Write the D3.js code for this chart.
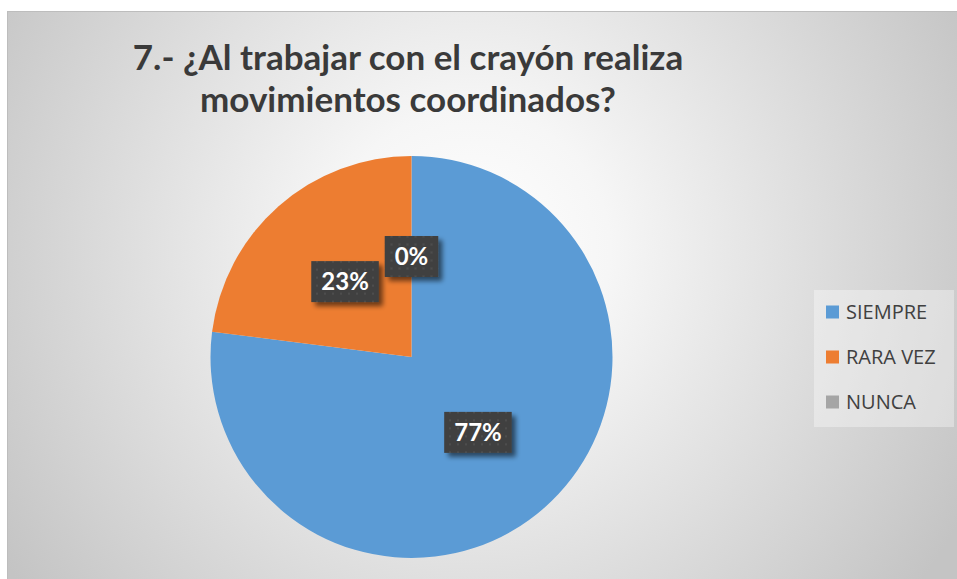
<!DOCTYPE html>
<html><head><meta charset="utf-8">
<script src="https://cdn.jsdelivr.net/npm/d3@7"></script>
<style>body{margin:0;background:#fff;}svg{display:block;}</style>
</head><body>
<script>
const categories = ["SIEMPRE", "RARA VEZ", "NUNCA"];
const values = [77, 23, 0];
const colors = ["#5B9BD5", "#ED7D31", "#A5A5A5"];
const titleLines = ["7.- ¿Al trabajar con el crayón realiza", "movimientos coordinados?"];

const W = 957, H = 579;
const svg = d3.select("body").append("svg").attr("width", W).attr("height", H);
const defs = svg.append("defs");

const rg = defs.append("radialGradient").attr("id", "bg")
  .attr("gradientUnits", "userSpaceOnUse")
  .attr("cx", 470).attr("cy", 250).attr("r", 560);
rg.append("stop").attr("offset", "0").attr("stop-color", "#ffffff");
rg.append("stop").attr("offset", "0.25").attr("stop-color", "#f6f6f6");
rg.append("stop").attr("offset", "1").attr("stop-color", "#c4c4c4");

const pat = defs.append("pattern").attr("id", "dots").attr("patternUnits", "userSpaceOnUse")
  .attr("width", 8).attr("height", 8);
pat.append("rect").attr("width", 8).attr("height", 8).attr("fill", "#404040");
pat.append("rect").attr("x", 3).attr("y", 3).attr("width", 2).attr("height", 2).attr("fill", "#4e4e4e");

const sh = defs.append("filter").attr("id", "shadow").attr("x", "-30%").attr("y", "-30%").attr("width", "170%").attr("height", "170%");
sh.append("feGaussianBlur").attr("in", "SourceAlpha").attr("stdDeviation", 2.5);
sh.append("feOffset").attr("dx", 4).attr("dy", 4).attr("result", "ob");
sh.append("feComponentTransfer").append("feFuncA").attr("type", "linear").attr("slope", 0.55);
const fm = sh.append("feMerge");
fm.append("feMergeNode");
fm.append("feMergeNode").attr("in", "SourceGraphic");

// chart area
svg.append("rect").attr("x", 7.5).attr("y", 11.5).attr("width", W).attr("height", H)
  .attr("fill", "url(#bg)").attr("stroke", "#bdbdbd").attr("stroke-width", 1);

// title
const title = svg.append("text").attr("text-anchor", "middle")
  .attr("font-family", "Lato, 'Open Sans', sans-serif").attr("font-weight", "bold")
  .attr("font-size", 35).attr("fill", "#3a3a3a");
title.selectAll("tspan").data(titleLines).join("tspan")
  .attr("x", 408).attr("y", (d, i) => 70 + i * 42).text(d => d);

// pie
const cx = 411.5, cy = 357, R = 201;
const pie = d3.pie().sort(null).value(d => d)(values);
const arc = d3.arc().innerRadius(0).outerRadius(R);
const g = svg.append("g").attr("transform", `translate(${cx},${cy})`);
g.selectAll("path").data(pie).join("path")
  .attr("d", arc).attr("fill", (d, i) => colors[i]);

// labels
const labelArc = d3.arc().innerRadius(0).outerRadius(R);
const fmt = d => Math.round(d.value / d3.sum(values) * 100) + "%";
const lab = g.selectAll("g.lab").data(pie).join("g").attr("class", "lab")
  .attr("transform", d => `translate(${labelArc.centroid(d)})`);
lab.each(function(d) {
  const s = d3.select(this);
  const t = s.append("text").attr("text-anchor", "middle").attr("dy", "0.36em")
    .attr("font-family", "Lato, 'Open Sans', sans-serif").attr("font-weight", "bold")
    .attr("font-size", 24).attr("fill", "#ffffff").text(fmt(d));
  const w = t.node().getComputedTextLength() + 20;
  s.insert("rect", "text").attr("x", -w / 2).attr("y", -20.5).attr("width", w).attr("height", 41)
    .attr("fill", "url(#dots)").attr("filter", "url(#shadow)");
});

// legend
const lg = svg.append("g");
lg.append("rect").attr("x", 814).attr("y", 290).attr("width", 140).attr("height", 137)
  .attr("fill", "#ffffff").attr("fill-opacity", 0.35);
const li = lg.selectAll("g.li").data(categories).join("g").attr("class", "li")
  .attr("transform", (d, i) => `translate(826,${312 + i * 45})`);
li.append("rect").attr("x", 0).attr("y", -6.5).attr("width", 13).attr("height", 13)
  .attr("fill", (d, i) => colors[i]);
li.append("text").attr("x", 20).attr("dy", "0.36em")
  .attr("font-family", "'Open Sans', sans-serif").attr("font-size", 20)
  .attr("fill", "#404040").text(d => d);
</script>
</body></html>
